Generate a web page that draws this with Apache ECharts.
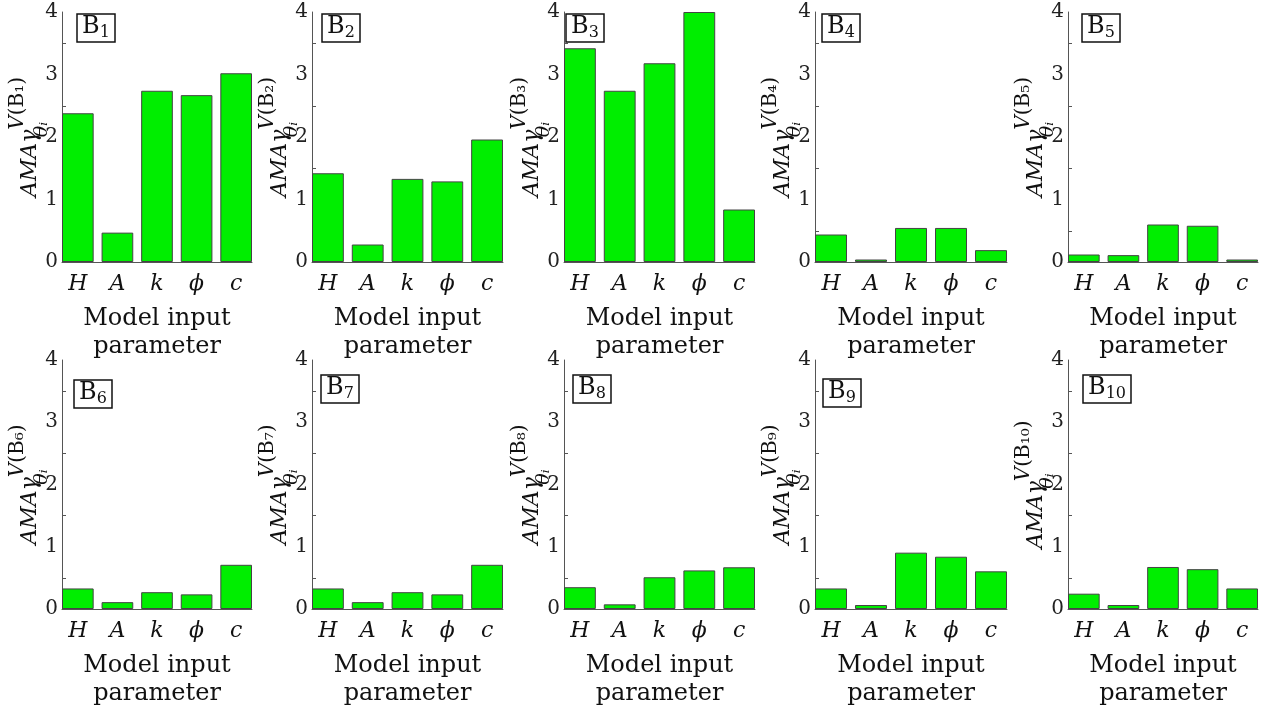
<!DOCTYPE html>
<html><head><meta charset="utf-8">
<script src="https://cdn.jsdelivr.net/npm/echarts@6/dist/echarts.min.js"></script>
<style>html,body{margin:0;padding:0;background:#fff}#c{width:1263px;height:713px}</style>
</head><body><div id="c"></div>
<script>
// ---- data ----
const categories = ['H', 'A', 'k', 'ϕ', 'c'];
const panelIds = ['1', '2', '3', '4', '5', '6', '7', '8', '9', '10'];
const yTickLabels = ['0', '1', '2', '3', '4'];
const xAxisTitle = 'Model input\nparameter';
const b1 = [2.38, 0.47, 2.74, 2.67, 3.02];
const b2 = [1.42, 0.28, 1.33, 1.29, 1.96];
const b3 = [3.42, 2.74, 3.18, 4.00, 0.84];
const b4 = [0.44, 0.04, 0.545, 0.545, 0.19];
const b5 = [0.12, 0.11, 0.60, 0.58, 0.04];
const b6 = [0.33, 0.11, 0.27, 0.235, 0.71];
const b7 = [0.33, 0.11, 0.27, 0.235, 0.71];
const b8 = [0.35, 0.075, 0.51, 0.62, 0.67];
const b9 = [0.33, 0.064, 0.905, 0.84, 0.605];
const b10 = [0.246, 0.064, 0.675, 0.64, 0.33];
const panels = [b1, b2, b3, b4, b5, b6, b7, b8, b9, b10];

// ---- layout ----
const SERIF = '"DejaVu Serif", serif';
const colLeft = [62, 312, 564, 815, 1068];
const colWidth = [190, 191, 191, 192, 190];
const rowTop = [12, 360];
const rowHeight = [250, 249];
const boxLeft = [77, 322, 566, 822, 1082, 74, 321, 573, 823, 1083];
const boxTop = [11, 11, 11, 11, 11, 377, 372, 372, 376, 372];

const subDigits = '₀₁₂₃₄₅₆₇₈₉';
const toSub = s => s.split('').map(d => subDigits[+d]).join('');

const grids = [], xAxes = [], yAxes = [], series = [], titles = [];
panels.forEach((vals, i) => {
  const row = i < 5 ? 0 : 1, col = i % 5;
  grids.push({left: colLeft[col], top: rowTop[row], width: colWidth[col], height: rowHeight[row],
    containLabel: false, outerBoundsMode: 'none'});
  xAxes.push({
    gridIndex: i, type: 'value', min: 0.6, max: 5.4,
    splitLine: {show: false},
    axisLine: {show: true, onZero: false, lineStyle: {color: '#555', width: 1}},
    axisTick: {show: false},
    axisLabel: {customValues: [1, 2, 3, 4, 5], formatter: v => categories[Math.round(v) - 1] || '',
      fontFamily: SERIF, fontStyle: 'italic', fontSize: 22, color: '#111', margin: 11},
    name: xAxisTitle, nameLocation: 'middle', nameGap: 43, nameMoveOverlap: false,
    nameTextStyle: {fontFamily: SERIF, fontSize: 24, lineHeight: 28, color: '#111'}
  });
  yAxes.push({
    gridIndex: i, type: 'value', min: 0, max: 4, interval: 1,
    axisLine: {show: true, lineStyle: {color: '#555', width: 1}},
    axisTick: {show: true, inside: true, length: 4, customValues: [0.5, 1.5, 2.5, 3.5], lineStyle: {color: '#555'}},
    splitLine: {show: false},
    axisLabel: {formatter: v => yTickLabels[Math.round(v)], fontFamily: SERIF, fontSize: 20, color: '#222', margin: 4},
    name: '{a|AMAγ}{s|θᵢ}{pv|V}{pr|(B' + toSub(panelIds[i]) + ')}',
    nameLocation: 'middle', nameGap: 10, nameRotate: 90, nameMoveOverlap: false,
    nameTextStyle: {rich: {
      a: {fontFamily: SERIF, fontStyle: 'italic', fontSize: 22, lineHeight: 44, color: '#111'},
      s: {fontFamily: SERIF, fontStyle: 'italic', fontSize: 19, lineHeight: 44, verticalAlign: 'bottom', width: 0, color: '#111'},
      pv: {fontFamily: SERIF, fontStyle: 'italic', fontSize: 20, lineHeight: 44, verticalAlign: 'top', color: '#111'},
      pr: {fontFamily: SERIF, fontSize: 20, lineHeight: 44, verticalAlign: 'top', color: '#111'}
    }}
  });
  series.push({
    type: 'bar', xAxisIndex: i, yAxisIndex: i,
    data: vals.map((v, j) => [j + 1, v]),
    barWidth: '80%',
    itemStyle: {color: '#00ee00', borderColor: '#444', borderWidth: 1},
    silent: true
  });
  titles.push({
    left: boxLeft[i], top: boxTop[i],
    text: '{b|B}{s|' + panelIds[i] + '}',
    padding: [1, 5, 1, 5], borderColor: '#111', borderWidth: 1.5,
    textStyle: {fontWeight: 'normal', rich: {
      b: {fontFamily: SERIF, fontWeight: 'normal', fontSize: 24, lineHeight: 29, color: '#111'},
      s: {fontFamily: SERIF, fontWeight: 'normal', fontSize: 16, lineHeight: 29, verticalAlign: 'bottom', color: '#111'}
    }}
  });
});

const chart = echarts.init(document.getElementById('c'), null, {renderer: 'canvas'});
chart.setOption({
  animation: false,
  backgroundColor: '#fff',
  title: titles, grid: grids, xAxis: xAxes, yAxis: yAxes, series: series
});
</script></body></html>
